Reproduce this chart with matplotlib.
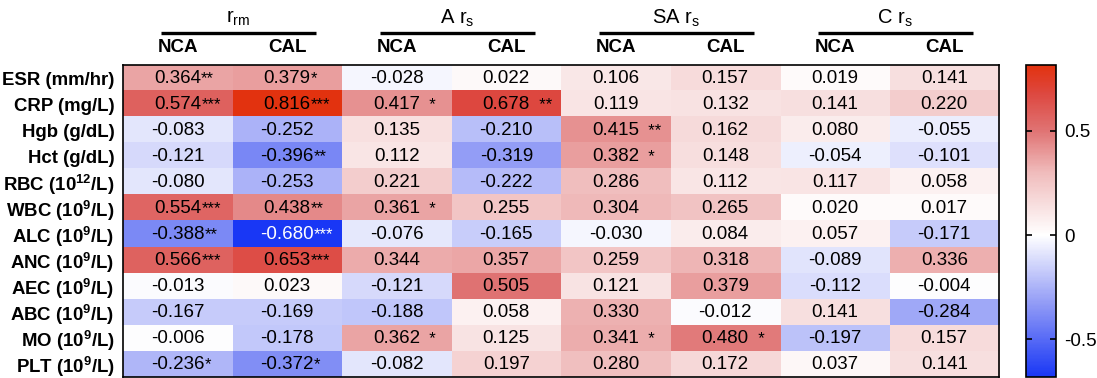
import numpy as np
import matplotlib
matplotlib.use('Agg')
import matplotlib.pyplot as plt
from matplotlib.colors import LinearSegmentedColormap, Normalize

plt.rcParams['font.family'] = ['Liberation Sans', 'DejaVu Sans']
plt.rcParams['mathtext.fontset'] = 'custom'
plt.rcParams['mathtext.rm'] = 'Liberation Sans'
plt.rcParams['mathtext.bf'] = 'Liberation Sans:bold'
plt.rcParams['axes.unicode_minus'] = False

# 数据
rows = ['ESR (mm/hr)', 'CRP (mg/L)', 'Hgb (g/dL)', 'Hct (g/dL)',
        r'RBC (10$^\mathbf{12}$/L)', r'WBC (10$^\mathbf{9}$/L)', r'ALC (10$^\mathbf{9}$/L)',
        r'ANC (10$^\mathbf{9}$/L)', r'AEC (10$^\mathbf{9}$/L)', r'ABC (10$^\mathbf{9}$/L)',
        r'MO (10$^\mathbf{9}$/L)', r'PLT (10$^\mathbf{9}$/L)']
groups = [r'$\mathrm{r_{rm}}$', r'A $\mathrm{r_s}$', r'SA $\mathrm{r_s}$', r'C $\mathrm{r_s}$']
subcols = ['NCA', 'CAL']

vals = np.array([
    [0.364, 0.379, -0.028, 0.022, 0.106, 0.157, 0.019, 0.141],
    [0.574, 0.816, 0.417, 0.678, 0.119, 0.132, 0.141, 0.220],
    [-0.083, -0.252, 0.135, -0.210, 0.415, 0.162, 0.080, -0.055],
    [-0.121, -0.396, 0.112, -0.319, 0.382, 0.148, -0.054, -0.101],
    [-0.080, -0.253, 0.221, -0.222, 0.286, 0.112, 0.117, 0.058],
    [0.554, 0.438, 0.361, 0.255, 0.304, 0.265, 0.020, 0.017],
    [-0.388, -0.680, -0.076, -0.165, -0.030, 0.084, 0.057, -0.171],
    [0.566, 0.653, 0.344, 0.357, 0.259, 0.318, -0.089, 0.336],
    [-0.013, 0.023, -0.121, 0.505, 0.121, 0.379, -0.112, -0.004],
    [-0.167, -0.169, -0.188, 0.058, 0.330, -0.012, 0.141, -0.284],
    [-0.006, -0.178, 0.362, 0.125, 0.341, 0.480, -0.197, 0.157],
    [-0.236, -0.372, -0.082, 0.197, 0.280, 0.172, 0.037, 0.141],
])

stars = [
    ['**', '*', '', '', '', '', '', ''],
    ['***', '***', '  *', '  **', '', '', '', ''],
    ['', '', '', '', '  **', '', '', ''],
    ['', '**', '', '', '  *', '', '', ''],
    ['', '', '', '', '', '', '', ''],
    ['***', '**', '  *', '', '', '', '', ''],
    ['**', '***', '', '', '', '', '', ''],
    ['***', '***', '', '', '', '', '', ''],
    ['', '', '', '', '', '', '', ''],
    ['', '', '', '', '', '', '', ''],
    ['', '', '  *', '', '  *', '  *', '', ''],
    ['*', '*', '', '', '', '', '', ''],
]

vmin, vmax = -0.680, 0.816
pos = lambda v: (v - vmin) / (vmax - vmin)
cmap = LinearSegmentedColormap.from_list('bwr_prism', [
    (0, '#1937f5'), (pos(-0.34), '#8e98f6'), (pos(0), '#ffffff'),
    (pos(0.3), '#f0bcbc'), (pos(0.5), '#e07474'), (pos(0.68), '#dd4840'),
    (1, '#e2320f')])
norm = Normalize(vmin, vmax)

fig = plt.figure(figsize=(10.97, 3.78), dpi=100)
ax = fig.add_axes([0.1121, 0.0026, 0.7986, 0.8254])
cax = fig.add_axes([0.9353, 0.0026, 0.0273, 0.8254])

m, n = vals.shape
im = ax.imshow(vals, cmap=cmap, norm=norm, aspect='auto', interpolation='nearest',
               extent=(0, n, m, 0))

for i in range(m):
    for j in range(n):
        c = 'white' if vals[i, j] < -0.6 else 'black'
        t = ax.text(j + 0.5, i + 0.5, '%.3f' % vals[i, j], ha='center', va='center',
                    fontsize=13.5, color=c)
        if stars[i][j]:
            ax.annotate(stars[i][j], xy=(1, 0), xycoords=t, ha='left', va='bottom',
                        fontsize=12, color=c)

ax.set_xticks([])
ax.set_yticks(np.arange(m) + 0.5)
ax.set_yticklabels(rows, fontsize=13.4, fontweight='bold')
ax.tick_params(axis='y', length=0, pad=6)
for s in ax.spines.values():
    s.set_linewidth(1.2)

# 表头
for g in range(len(groups)):
    x0 = 2 * g
    ax.plot([x0 + 0.35, x0 + 1.76], [-1.23, -1.23], color='black', lw=2.4,
            clip_on=False, solid_capstyle='butt')
    ax.text(x0 + 1.05, -1.81, groups[g], ha='center', va='center', fontsize=14.5)
    for k in range(2):
        ax.text(x0 + k + 0.5, -0.69, subcols[k], ha='center', va='center',
                fontsize=13.5, fontweight='bold')
ax.set_xlim(0, n)
ax.set_ylim(m, 0)

cb = fig.colorbar(im, cax=cax)
cb.set_ticks([-0.5, 0, 0.5])
cb.set_ticklabels(['-0.5', '0', '0.5'])
cb.ax.tick_params(direction='in', left=True, right=True, length=4, width=1.2,
                  labelsize=13.5, pad=6)
cb.outline.set_linewidth(1.2)

plt.savefig('out.png', dpi=100)
